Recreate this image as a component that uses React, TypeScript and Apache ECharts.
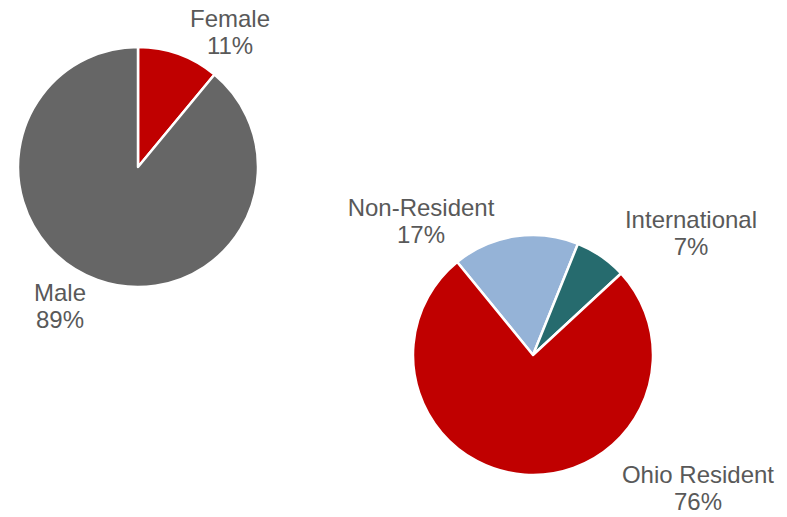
import React, { useEffect, useRef } from "react";
import * as echarts from "echarts";

const genderCategories = ["Female", "Male"];
const genderValues = [11, 89];
const residencyCategories = ["Non-Resident", "International", "Ohio Resident"];
const residencyValues = [17, 7, 76];

const genderColors = ["#C00000", "#666666"];
const residencyColors = ["#95B3D7", "#266B6E", "#C00000"];

const genderLabelPos = [
  [230, 32],
  [60, 306],
];
const residencyLabelPos = [
  [421, 221],
  [691, 233],
  [698, 488],
];

export default function App() {
  const ref = useRef<HTMLDivElement>(null);
  useEffect(() => {
    document.body.style.margin = "0";
    const chart = echarts.init(ref.current!, undefined, { renderer: "svg" });
    const labelStyle = {
      show: true,
      position: "outside",
      formatter: "{b}\n{c}%",
      fontFamily: "Liberation Sans, Arial, sans-serif",
      fontSize: 24,
      lineHeight: 27,
      color: "#595959",
      overflow: "none",
      width: 200,
      align: "center",
    };
    chart.setOption({
      animation: false,
      backgroundColor: "#ffffff",
      series: [
        {
          type: "pie",
          center: [138, 167],
          radius: [0, 120],
          startAngle: 90,
          clockwise: true,
          data: genderCategories.map((n, i) => ({
            name: n,
            value: genderValues[i],
            itemStyle: { color: genderColors[i] },
          })),
          itemStyle: { borderColor: "#ffffff", borderWidth: 2.5 },
          label: labelStyle,
          labelLine: { show: false },
          labelLayout: (p: any) => ({
            x: genderLabelPos[p.dataIndex][0],
            y: genderLabelPos[p.dataIndex][1],
            align: "center",
            verticalAlign: "middle",
          }),
          emphasis: { disabled: true },
        },
        {
          type: "pie",
          center: [533, 355],
          radius: [0, 120],
          startAngle: 129.2,
          clockwise: true,
          data: residencyCategories.map((n, i) => ({
            name: n,
            value: residencyValues[i],
            itemStyle: { color: residencyColors[i] },
          })),
          itemStyle: { borderColor: "#ffffff", borderWidth: 2.5 },
          label: labelStyle,
          labelLine: { show: false },
          labelLayout: (p: any) => ({
            x: residencyLabelPos[p.dataIndex][0],
            y: residencyLabelPos[p.dataIndex][1],
            align: "center",
            verticalAlign: "middle",
          }),
          emphasis: { disabled: true },
        },
      ],
    });
    return () => chart.dispose();
  }, []);
  return <div ref={ref} style={{ width: 787, height: 517 }} />;
}
